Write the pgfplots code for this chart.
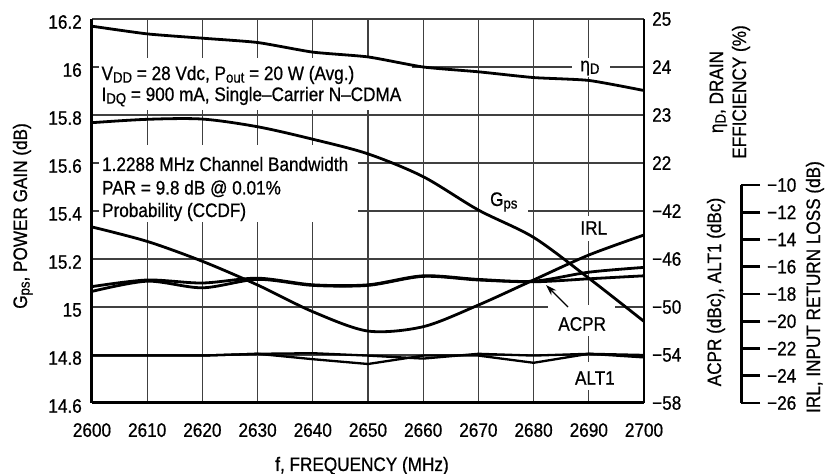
\documentclass[border=0pt]{standalone}
\usepackage{fontspec}
\setmainfont{Liberation Sans}[FakeStretch=0.88, RawFeature={embolden=0.7}]
\usepackage{pgfplots}
\pgfplotsset{compat=1.18}
\usetikzlibrary{arrows.meta}

\newcommand{\lbl}{\fontsize{19.5}{22}\selectfont}
\newcommand{\sub}[1]{\raisebox{-2.6pt}{\fontsize{15}{15}\selectfont #1}}

% 1 px of the reference = 1 pt here; plot box 92..644 x 19..403 (px, y down)
\pgfplotsset{
  base/.style={
    scale only axis, width=552pt, height=384pt,
    at={(92pt,71pt)}, anchor=south west,
    xmin=2600, xmax=2700,
    /pgf/number format/assume math mode=true,
    /pgf/number format/1000 sep={},
    tick label style={font=\lbl, inner sep=0pt},
    major tick length=0pt,
  },
  curve/.style={black, line width=2.8pt, no marks},
  rightaxis/.style={base, hide x axis, axis y line*=right,
    axis line style={line width=2pt, -},
    yticklabel style={anchor=west, xshift=8pt}},
}

\begin{document}
\begin{tikzpicture}
\useasboundingbox (0,0) rectangle (825pt,474pt);

% frame, grid and the white boxes behind the labels
\begin{axis}[base,
  ymin=14.6, ymax=16.2,
  xtick={2600,2610,...,2700},
  ytick={14.6,14.8,15,15.2,15.4,15.6,15.8,16,16.2},
  yticklabels={14.6,14.8,15,15.2,15.4,15.6,15.8,16,16.2},
  grid=major,
  major grid style={black!75, line width=1.1pt},
  axis x line*=bottom, axis y line*=left,
  axis line style={line width=3pt, -},
  xticklabel style={yshift=-20pt},
  yticklabel style={xshift=-10pt, yshift=-3pt},
]
\fill[white] (axis cs:2601.27,16.0375) rectangle (axis cs:2657.97,15.8208);
\fill[white] (axis cs:2601.27,15.675) rectangle (axis cs:2648.19,15.354);
\fill[white] (axis cs:2686.96,16.0375) rectangle (axis cs:2693.84,15.9583);
\fill[white] (axis cs:2670.29,15.4792) rectangle (axis cs:2678.99,15.3833);
\fill[white] (axis cs:2688.77,15.3792) rectangle (axis cs:2694.02,15.275);
\fill[white] (axis cs:2682.61,15.0083) rectangle (axis cs:2694.75,14.8792);
\fill[white] (axis cs:2687.32,14.7708) rectangle (axis cs:2694.93,14.6542);

\begin{scope}[every node/.style={anchor=base west, inner sep=0pt, font=\lbl}]
\node at (axis cs:2601.7,15.9458) {V\sub{DD} = 28 Vdc, P\sub{out} = 20 W (Avg.)};
\node at (axis cs:2601.7,15.8583) {I\sub{DQ} = 900 mA, Single–Carrier N–CDMA};
\node at (axis cs:2601.8,15.5667) {1.2288 MHz Channel Bandwidth};
\node at (axis cs:2601.8,15.4688) {PAR = 9.8 dB @ 0.01\%};
\node at (axis cs:2601.8,15.375) {Probability (CCDF)};
\end{scope}
\begin{scope}[every node/.style={inner sep=0pt, font=\lbl}]
\node at (axis cs:2690.2,15.9958) {η\sub{D}};
\node at (axis cs:2674.6,15.4375) {G\sub{ps}};
\node at (axis cs:2690.9,15.3292) {IRL};
\node at (axis cs:2688.8,14.9292) {ACPR};
\node at (axis cs:2691.1,14.7042) {ALT1};
\end{scope}
\end{axis}

% power gain
\begin{axis}[base, hide axis, ymin=14.6, ymax=16.2]
\addplot+[curve, smooth] coordinates {
  (2600,15.768) (2610,15.782) (2620,15.783) (2630,15.751) (2640,15.699)
  (2650,15.638) (2660,15.543) (2670,15.404) (2680,15.290) (2690,15.120)
  (2700,14.940)};
\end{axis}

% drain efficiency
\begin{axis}[rightaxis, ymin=17, ymax=25, ytick={22,23,24,25}]
\addplot+[curve, smooth, tension=0.35] coordinates {
  (2600,24.85) (2610,24.69) (2620,24.60) (2630,24.51) (2640,24.31)
  (2650,24.21) (2660,24.00) (2670,23.90) (2680,23.78) (2690,23.72)
  (2700,23.51)};
\end{axis}

% ACPR and ALT1
\begin{axis}[rightaxis, ymin=-58, ymax=-26,
  ytick={-58,-54,-50,-46,-42},
  yticklabels={−58,−54,−50,−46,−42}]
\addplot+[curve, smooth] coordinates {
  (2600,-48.30) (2610,-47.75) (2620,-48.00) (2630,-47.60) (2640,-48.15)
  (2650,-48.15) (2660,-47.40) (2670,-47.70) (2680,-47.85) (2690,-47.10)
  (2700,-46.70)};
\addplot+[curve, smooth] coordinates {
  (2600,-48.70) (2610,-47.85) (2620,-48.40) (2630,-47.70) (2640,-48.20)
  (2650,-48.20) (2660,-47.45) (2670,-47.75) (2680,-47.90) (2690,-47.65)
  (2700,-47.40)};
\addplot+[curve, line width=2.3pt] coordinates {
  (2600,-54.05) (2610,-54.05) (2620,-54.05) (2630,-53.90) (2640,-53.85)
  (2650,-54.05) (2660,-54.30) (2670,-53.90) (2680,-54.05) (2690,-53.90)
  (2700,-54.00)};
\addplot+[curve, line width=2.3pt] coordinates {
  (2600,-54.05) (2610,-54.05) (2620,-54.05) (2630,-53.90) (2640,-54.35)
  (2650,-54.75) (2660,-54.05) (2670,-54.05) (2680,-54.65) (2690,-53.90)
  (2700,-54.20)};
\end{axis}

% input return loss, plotted on a scale of 13.625 pt per dB
\begin{axis}[base, hide axis, ymin=-26, ymax=2.1835]
\addplot+[curve, smooth] coordinates {
  (2600,-13.08) (2610,-14.14) (2620,-15.60) (2630,-17.34) (2640,-19.30)
  (2650,-20.72) (2660,-20.40) (2670,-18.81) (2680,-16.97) (2690,-15.14)
  (2700,-13.67)};
\end{axis}

% the separate IRL scale
\begin{axis}[scale only axis, width=20pt, height=218pt,
  at={(741pt,71pt)}, anchor=south east,
  xmin=0, xmax=1, ymin=-26, ymax=-10,
  hide x axis, axis y line*=right,
  axis line style={line width=3pt, -},
  ytick={-26,-24,...,-10},
  yticklabels={−26,−24,−22,−20,−18,−16,−14,−12,−10},
  tick align=outside, major tick length=19pt,
  major tick style={line width=2.7pt, black},
  tick label style={font=\lbl, inner sep=0pt},
  yticklabel style={anchor=west, xshift=7pt}]
\end{axis}

% axis titles
\begin{scope}[every node/.style={inner sep=0pt, font=\lbl, anchor=base}]
\node[rotate=90] at (27pt,258pt) {G\sub{ps}, POWER GAIN (dB)};
\node[rotate=90] at (723pt,382pt) {η\sub{D}, DRAIN};
\node[rotate=90] at (746pt,382pt) {EFFICIENCY (\%)};
\node[rotate=90] at (721pt,182pt) {ACPR (dBc), ALT1 (dBc)};
\node[rotate=90] at (820pt,187pt) {IRL, INPUT RETURN LOSS (dB)};
\node at (362pt,3pt) {f, FREQUENCY (MHz)};
\end{scope}

\draw[line width=1.2pt, -{Stealth[length=11pt, width=7pt]}]
  (568pt,167pt) -- (546pt,189pt);
\end{tikzpicture}
\end{document}
